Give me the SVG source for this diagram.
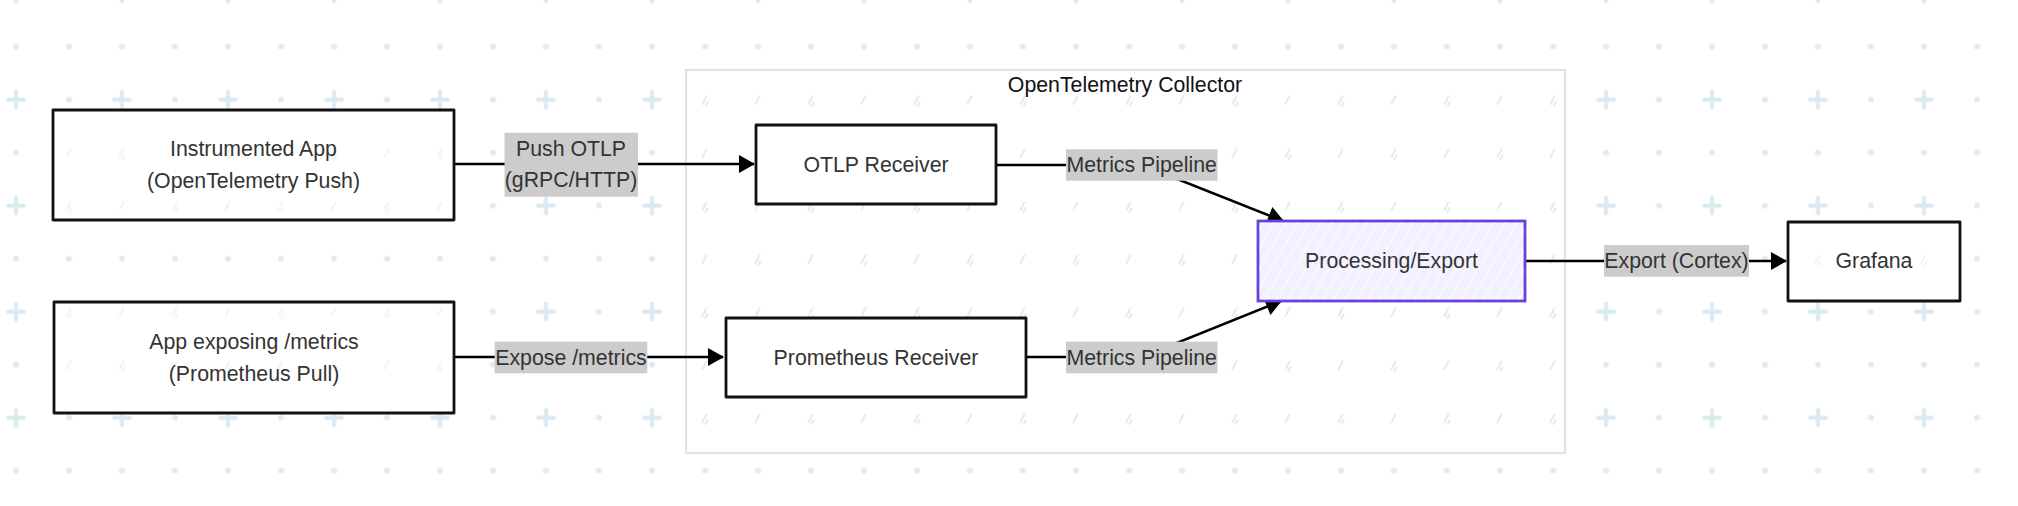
<svg xmlns="http://www.w3.org/2000/svg" width="2018" height="506" viewBox="0 0 2018 506">
<style>
.node rect.box{fill:#fff;stroke:#111;stroke-width:2.8;stroke-linejoin:round}
.ntext{font-family:"Liberation Sans",Arial,sans-serif;font-size:21.3px;fill:#333;text-anchor:middle}
.ltext{font-family:"Liberation Sans",Arial,sans-serif;font-size:21.3px;fill:#333;text-anchor:middle}
.lbg{fill:#cccccc}
.edge{fill:none;stroke:#000;stroke-width:2.6}
.slash{fill:url(#slashes)}
.slash-faint{fill:url(#slashes);opacity:0.55}
</style>
<defs>
<pattern id="grid" patternUnits="userSpaceOnUse" x="-10.5" y="-32.8" width="106" height="106">
<path d="M26.5 18.5v16M18.5 26.5h16" stroke="#d8eaf0" stroke-width="4" stroke-linecap="round"/>
<circle cx="79.5" cy="26.5" r="3" fill="#dcedf2"/>
<circle cx="26.5" cy="79.5" r="3" fill="#dcedf2"/>
<circle cx="79.5" cy="79.5" r="3" fill="#dcedf2"/>
</pattern>
<pattern id="slashes" patternUnits="userSpaceOnUse" x="-10.5" y="-32.8" width="106" height="106">
<path d="M24 31l4-8" stroke="#d3e6ec" stroke-width="1.6" stroke-linecap="round"/>
<path d="M77 31l4-8M80 33l2-4" stroke="#d3e6ec" stroke-width="1.6" stroke-linecap="round"/>
<path d="M24 84l4-8M27 86l2-4" stroke="#d3e6ec" stroke-width="1.6" stroke-linecap="round"/>
<path d="M77 84l4-8" stroke="#d3e6ec" stroke-width="1.6" stroke-linecap="round"/>
</pattern>
<pattern id="hatch" patternUnits="userSpaceOnUse" width="10" height="10" patternTransform="rotate(30)">
<line x1="5" y1="0" x2="5" y2="10" stroke="#ffffff" stroke-width="1.2" opacity="0.8"/>
</pattern>
<marker id="arrow" markerUnits="userSpaceOnUse" markerWidth="16" markerHeight="18" refX="15" refY="9" orient="auto" overflow="visible">
<path d="M0 0L16 9L0 18Z" fill="#000"/>
</marker>
</defs>
<rect width="2018" height="506" fill="#fff"/>
<rect width="2018" height="506" fill="url(#grid)"/>

<g id="collector">
<rect x="686" y="70" width="879" height="383" fill="#fff" stroke="#e2e2e2" stroke-width="2.2"/>
<rect x="687" y="71" width="877" height="381" class="slash"/>
<text x="1125" y="92" font-family="'Liberation Sans',Arial,sans-serif" font-size="21.3" fill="#111" text-anchor="middle">OpenTelemetry Collector</text>
</g>

<g id="connectors">
<path class="edge" d="M455 164H754" marker-end="url(#arrow)"/>
<path class="edge" d="M455 357H723" marker-end="url(#arrow)"/>
<path class="edge" d="M996 165H1142L1283 221" marker-end="url(#arrow)"/>
<path class="edge" d="M1026 357H1142L1281 301" marker-end="url(#arrow)"/>
<path class="edge" d="M1525 261H1786" marker-end="url(#arrow)"/>
<g id="label-push">
<rect class="lbg" x="504.5" y="132.7" width="133.5" height="64"/>
<text class="ltext" x="571" y="156">Push OTLP</text>
<text class="ltext" x="571" y="187">(gRPC/HTTP)</text>
</g>
<g id="label-expose">
<rect class="lbg" x="494.6" y="341.7" width="152.7" height="31.6"/>
<text class="ltext" x="571" y="364.5">Expose /metrics</text>
</g>
<g id="label-mp1">
<rect class="lbg" x="1066" y="149.3" width="151.5" height="31.4"/>
<text class="ltext" x="1141.7" y="172.3">Metrics Pipeline</text>
</g>
<g id="label-mp2">
<rect class="lbg" x="1066" y="341.7" width="151.5" height="31.6"/>
<text class="ltext" x="1141.7" y="364.5">Metrics Pipeline</text>
</g>
<g id="label-export">
<rect class="lbg" x="1604" y="245" width="145" height="31.7"/>
<text class="ltext" x="1676.5" y="268.3">Export (Cortex)</text>
</g>
</g>

<g id="instrumented-app" class="node">
<rect class="box" x="53" y="110" width="401" height="110"/>
<rect class="slash-faint" x="55" y="112" width="397" height="106"/>
<text class="ntext" x="253.5" y="156">Instrumented App</text>
<text class="ntext" x="253.5" y="188">(OpenTelemetry Push)</text>
</g>
<g id="app-metrics" class="node">
<rect class="box" x="54" y="302" width="400" height="111"/>
<rect class="slash-faint" x="56" y="304" width="396" height="107"/>
<text class="ntext" x="254" y="349">App exposing /metrics</text>
<text class="ntext" x="254" y="381">(Prometheus Pull)</text>
</g>
<g id="otlp-receiver" class="node">
<rect class="box" x="756" y="125" width="240" height="79"/>
<text class="ntext" x="876" y="172">OTLP Receiver</text>
</g>
<g id="prometheus-receiver" class="node">
<rect class="box" x="726" y="318" width="300" height="79"/>
<text class="ntext" x="876" y="365">Prometheus Receiver</text>
</g>
<g id="processing-export" class="node">
<rect x="1258" y="221" width="267" height="80" fill="#f3f0ff" stroke="#6741d9" stroke-width="2.8"/>
<rect x="1259.5" y="222.5" width="264" height="77" fill="url(#hatch)"/>
<text class="ntext" x="1391.5" y="268.3">Processing/Export</text>
</g>
<g id="grafana" class="node">
<rect class="box" x="1788" y="222" width="172" height="79"/>
<rect class="slash-faint" x="1790" y="224" width="168" height="75"/>
<text class="ntext" x="1874" y="268.3">Grafana</text>
</g>
</svg>
